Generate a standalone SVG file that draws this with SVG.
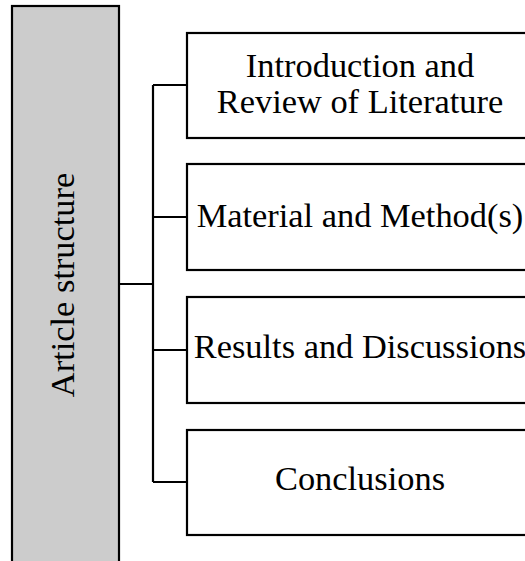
<svg xmlns="http://www.w3.org/2000/svg" width="525" height="561" viewBox="0 0 525 561">
<style>
.box{fill:#ffffff;stroke:#000000;stroke-width:2.2}
.lbl{font-family:"Liberation Serif","Times New Roman",serif;font-size:34.4px;fill:#000000;text-anchor:middle}
.con{fill:none;stroke:#000000;stroke-width:2.2}
</style>
<rect x="0" y="0" width="525" height="561" fill="#ffffff"/>
<g id="root">
<rect x="12" y="6" width="107" height="560" fill="#cccccc" stroke="#000000" stroke-width="2.2"/>
<text class="lbl" transform="translate(74,285) rotate(-90)">Article structure</text>
</g>
<g id="connectors">
<path class="con" d="M119,284 H153 M153,85 V482 M153,85 H187 M153,217 H187 M153,350 H187 M153,482 H187"/>
</g>
<g id="intro">
<rect class="box" x="187" y="33" width="346" height="105"/>
<text class="lbl" x="360" y="77">Introduction and</text>
<text class="lbl" x="360" y="113">Review of Literature</text>
</g>
<g id="methods">
<rect class="box" x="187" y="164" width="346" height="106"/>
<text class="lbl" x="360" y="227">Material and Method(s)</text>
</g>
<g id="results">
<rect class="box" x="187" y="297" width="346" height="106"/>
<text class="lbl" x="360" y="358">Results and Discussions</text>
</g>
<g id="conclusions">
<rect class="box" x="187" y="430" width="346" height="105"/>
<text class="lbl" x="360" y="490">Conclusions</text>
</g>
</svg>
